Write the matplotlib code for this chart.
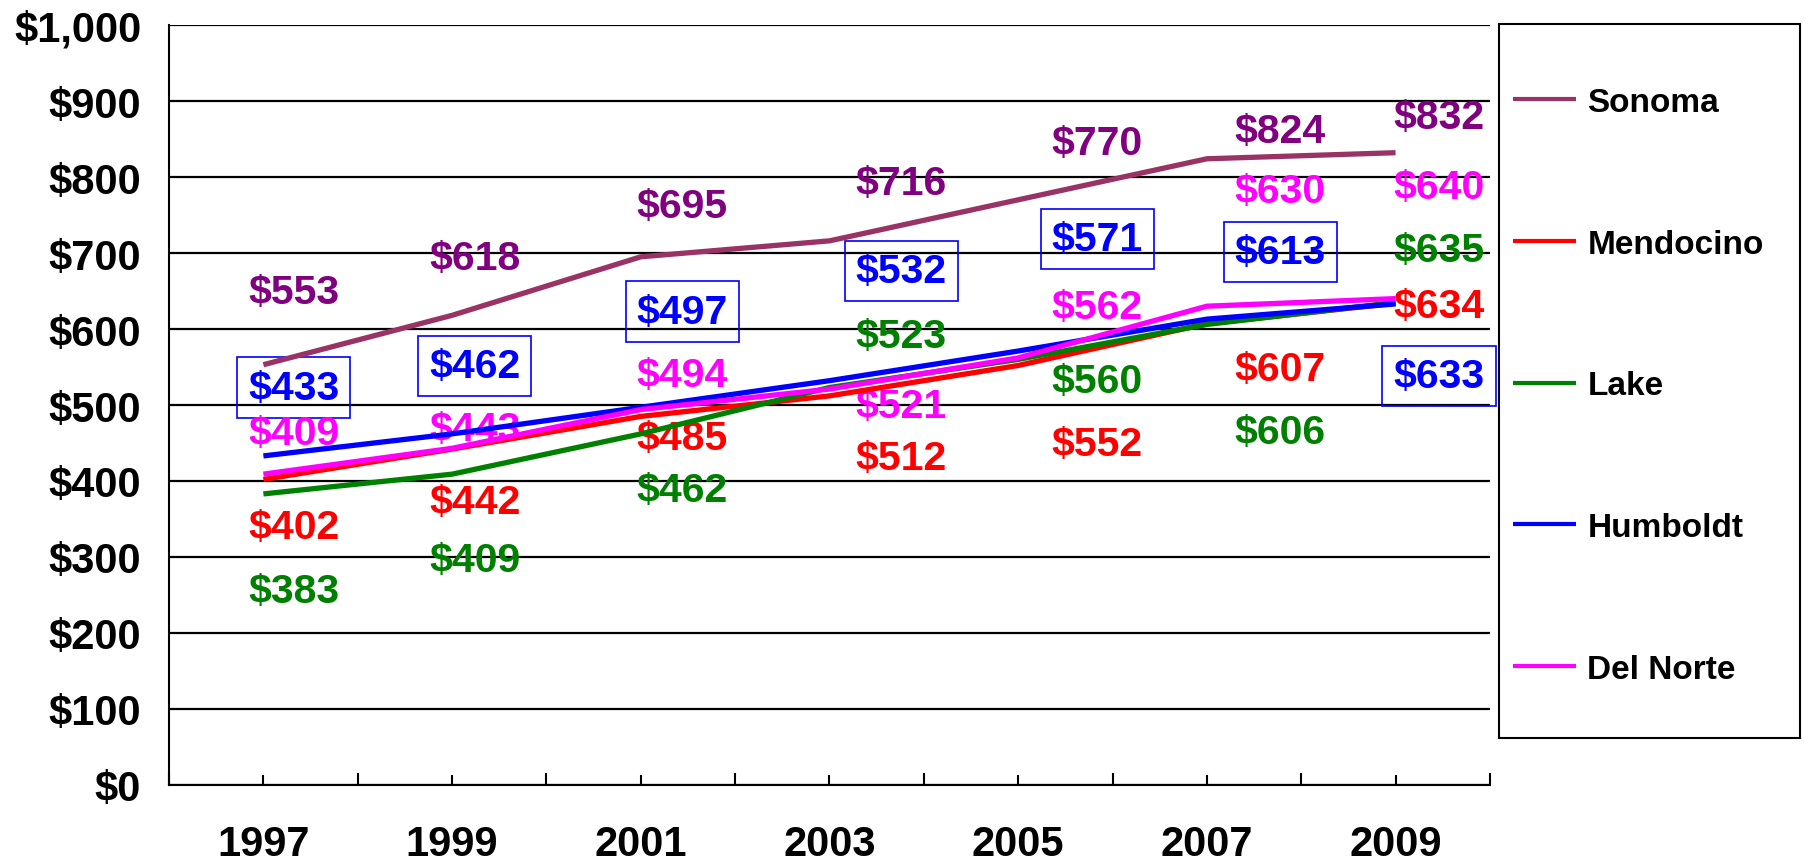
import numpy as np
import matplotlib.pyplot as plt
from matplotlib.patches import Rectangle

# data
years = [1997, 1999, 2001, 2003, 2005, 2007, 2009]
sonoma = [553, 618, 695, 716, 770, 824, 832]
mendocino = [402, 442, 485, 512, 552, 607, 634]
lake = [383, 409, 462, 523, 560, 606, 635]
humboldt = [433, 462, 497, 532, 571, 613, 633]
del_norte = [409, 443, 494, 521, 562, 630, 640]

# where the value labels sit (data units)
label_dx = [0.32, 0.24, 0.44, 0.76, 0.84, 0.78, 0.46]
sonoma_ly = [649, 694, 762, 792, 845, 860, 879]
mendocino_ly = [339, 373, 457, 430, 449, 548, 630]
lake_ly = [255, 296, 388, 591, 531, 465, 704]
humboldt_ly = [523, 551, 623, 676, 719, 701, 538]
del_norte_ly = [463, 468, 540, 499, 629, 781, 787]

plt.rcParams['font.family'] = ['Liberation Sans', 'DejaVu Sans']
plt.rcParams['font.weight'] = 'bold'

fig = plt.figure(figsize=(18.04, 8.62), dpi=100)
ax = fig.add_axes([0.0937, 0.0882, 0.7322, 0.8816])

series = [('Sonoma', sonoma, '#993366', '#800080', sonoma_ly),
          ('Mendocino', mendocino, '#FF0000', '#FF0000', mendocino_ly),
          ('Lake', lake, '#008000', '#008000', lake_ly),
          ('Humboldt', humboldt, '#0000FF', '#0000FF', humboldt_ly),
          ('Del Norte', del_norte, '#FF00FF', '#FF00FF', del_norte_ly)]

for name, vals, lc, tc, ly in series:
    ax.plot(years, vals, color=lc, lw=3.8, label=name, zorder=3,
            solid_capstyle='butt')
    for i, v in enumerate(vals):
        box = None
        if name == 'Humboldt':
            box = dict(boxstyle='square,pad=0.27', fc='none', ec='#0000FF',
                       lw=1.2)
        ax.text(years[i] + label_dx[i], ly[i], '$%d' % v, color=tc,
                fontsize=29.5, fontweight='bold', ha='center', va='center',
                bbox=box, zorder=2)

ax.set_xlim(1996, 2010)
ax.set_ylim(0, 1000)
ax.set_yticks(np.arange(0, 1001, 100))
ax.set_yticklabels(['$%s' % format(v, ',') for v in range(0, 1001, 100)])
ax.set_xticks(years)
ax.set_xticks(range(1996, 2011, 2), minor=True)
ax.grid(axis='y', color='black', lw=1.6, zorder=1)
ax.tick_params(axis='y', direction='in', length=0, pad=20, labelsize=30)
ax.tick_params(axis='x', which='major', direction='in', length=7, width=1.5,
               pad=28, labelsize=30)
ax.tick_params(axis='x', which='minor', direction='in', length=9, width=1.5)
for s in ['top', 'right']:
    ax.spines[s].set_visible(False)
for s in ['left', 'bottom']:
    ax.spines[s].set_linewidth(1.5)

# legend without its own frame, frame drawn separately
leg = fig.legend(loc='upper left', bbox_to_anchor=(0.8387, 0.898),
                 frameon=False, fontsize=24, handlelength=1.9,
                 handletextpad=0.33, labelspacing=3.32, borderpad=0,
                 borderaxespad=0)
for line in leg.get_lines():
    line.set_linewidth(3)
fig.patches.append(Rectangle((0.831, 0.143), 0.167, 0.828,
                             transform=fig.transFigure, fill=False,
                             ec='black', lw=1.5))

fig.savefig('out.png', dpi=100)
